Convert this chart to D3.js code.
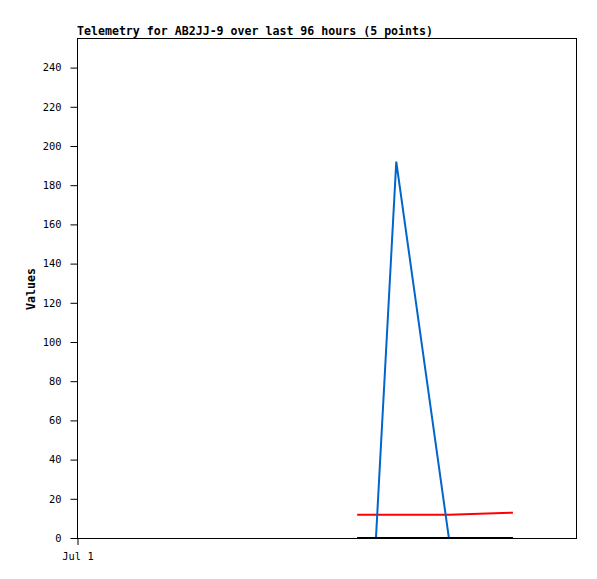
<!DOCTYPE html>
<html><head><meta charset="utf-8">
<script src="https://cdn.jsdelivr.net/npm/d3@7"></script>
<style>body{margin:0;background:#fff}svg{display:block}</style>
</head><body>
<script>
const title = "Telemetry for AB2JJ-9 over last 96 hours (5 points)";
const yLabel = "Values";
// hours after Jul 1 00:00
const hours = [53.8, 57.4, 61.3, 71.4, 83.7];
const blackSeries = [0, 0, 0, 0, 0];
const blueSeries = [0, 0, 192, 0, 0];
const redSeries = [11.9, 11.9, 11.9, 11.9, 12.9];
const yTicks = [0,20,40,60,80,100,120,140,160,180,200,220,240];
const xTickLabels = ["Jul 1"];

const W = 597, H = 579;
const m = {l:77, t:38, r:20, b:41};
const svg = d3.select("body").append("svg").attr("width", W).attr("height", H);
const start = new Date(2024, 6, 1, 0, 0);
const end = new Date(2024, 6, 5, 0, 0);
const toDate = h => new Date(start.getTime() + h*3600000);
const x = d3.scaleTime().domain([start, end]).range([m.l, W - m.r]);
const y = d3.scaleLinear().domain([0, 255.1]).range([H - m.b, m.t]);

const mono = "'DejaVu Sans Mono', 'Liberation Mono', monospace";

svg.append("defs").append("clipPath").attr("id","c")
  .append("rect").attr("x", m.l).attr("y", m.t).attr("width", W-m.r-m.l).attr("height", H-m.b-m.t);

const g = svg.append("g").attr("clip-path","url(#c)");
function draw(vals, color){
  const data = hours.map((h,i)=>({d:toDate(h), v:vals[i]}));
  g.append("path").datum(data)
    .attr("fill","none").attr("stroke",color).attr("stroke-width",2)
    .attr("d", d3.line().x(d=>x(d.d)).y(d=>y(d.v)));
}
draw(redSeries, "#ff0000");
draw(blueSeries, "#0066cc");
draw(blackSeries, "#000000");

// frame
svg.append("rect").attr("x", m.l+0.5).attr("y", m.t+0.5)
  .attr("width", W-m.r-m.l-1).attr("height", H-m.b-m.t)
  .attr("fill","none").attr("stroke","#000").attr("stroke-width",1);

// y axis
const ya = svg.append("g").attr("transform", `translate(${m.l+0.5},0)`)
  .call(d3.axisLeft(y).tickValues(yTicks).tickSize(7).tickPadding(9).tickFormat(d3.format("d")));
ya.select(".domain").remove();
ya.selectAll("text").attr("font-family", mono).attr("font-size", "10.4px").attr("fill","#000");
ya.selectAll("line").attr("stroke","#000");

// x axis
const xa = svg.append("g").attr("transform", `translate(0.5,${H-m.b})`)
  .call(d3.axisBottom(x).tickValues([start]).tickSize(7).tickPadding(8).tickFormat((d,i)=>xTickLabels[i]));
xa.select(".domain").remove();
xa.selectAll("text").attr("font-family", mono).attr("font-size", "10.4px").attr("fill","#000");
xa.selectAll("line").attr("stroke","#000");

svg.append("text").attr("x", m.l).attr("y", 35)
  .attr("font-family", mono).attr("font-weight","bold").attr("font-size","11.6px")
  .attr("textLength", 356).attr("lengthAdjust","spacing")
  .text(title);

svg.append("text").attr("transform", "translate(35,289) rotate(-90)")
  .attr("text-anchor","middle")
  .attr("font-family", mono).attr("font-weight","bold").attr("font-size","11.6px")
  .text(yLabel);
</script>
</body></html>
